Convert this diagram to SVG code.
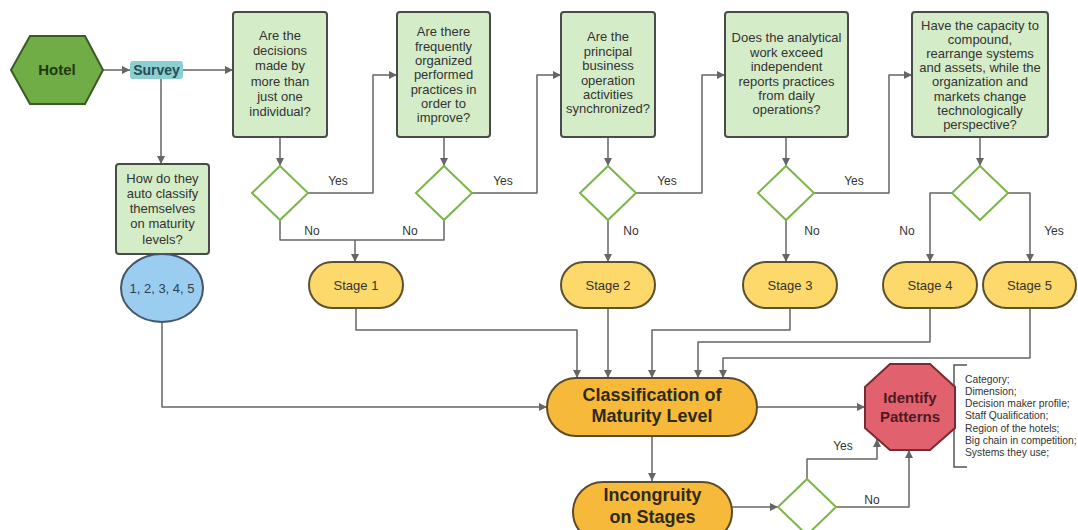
<svg xmlns="http://www.w3.org/2000/svg" width="1078" height="530" viewBox="0 0 1078 530">
<defs>
<marker id="arr" viewBox="0 0 10 10" refX="10" refY="5" markerWidth="9" markerHeight="8" markerUnits="userSpaceOnUse" orient="auto">
<path d="M0,0 L10,5 L0,10 z" fill="#666"/>
</marker>
<style>
text{font-family:"Liberation Sans",Arial,sans-serif;fill:#333;text-anchor:middle}
.q{fill:#d5ecc8;stroke:#4a4a4a;stroke-width:2}
.dia{fill:#fff;stroke:#7ab648;stroke-width:2}
.stage{fill:#fdd96b;stroke:#5b5030;stroke-width:2}
.big{fill:#f7b93a;stroke:#5a4a2a;stroke-width:2}
.c{fill:none;stroke:#666;stroke-width:1.5;stroke-linejoin:round}
.a{marker-end:url(#arr)}
.t13{font-size:13px}
.lbl{font-size:12px}
.bt{font-size:18px;font-weight:bold;fill:#2e2a1a}
.list{font-size:10.3px;text-anchor:start}
</style>
</defs>
<rect width="1078" height="530" fill="#fff"/>

<g id="connectors">
<path class="c a" d="M103,70 H130"/>
<path class="c a" d="M183,70 H233"/>
<path class="c a" d="M161,79 V164"/>
<path class="c a" d="M280,137 V166"/>
<path class="c a" d="M308,193 H373 V75 H397"/>
<path class="c" d="M280,220 V240 H355"/>
<path class="c" d="M444,220 V240 H355"/>
<path class="c a" d="M355,240 V262"/>
<path class="c a" d="M444,137 V166"/>
<path class="c a" d="M472,193 H537 V75 H561"/>
<path class="c a" d="M608,137 V166"/>
<path class="c a" d="M608,220 V262"/>
<path class="c a" d="M636,193 H702 V75 H725"/>
<path class="c a" d="M786,137 V166"/>
<path class="c a" d="M786,220 V262"/>
<path class="c a" d="M814,193 H889 V75 H912"/>
<path class="c a" d="M980,137 V166"/>
<path class="c a" d="M952,193 H930 V262"/>
<path class="c a" d="M1008,193 H1030 V262"/>
<path class="c a" d="M162,323 V407 H547"/>
<path class="c a" d="M356,308 V330 H577 V378"/>
<path class="c a" d="M608,308 V378"/>
<path class="c a" d="M790,308 V330 H652 V378"/>
<path class="c a" d="M930,308 V342 H698 V378"/>
<path class="c a" d="M1030,308 V358 H723 V378"/>
<path class="c a" d="M757,407 H865"/>
<path class="c a" d="M652,436 V481"/>
<path class="c a" d="M732,507 H778"/>
<path class="c a" d="M807,479 V459 H877 V439"/>
<path class="c a" d="M836,507 H909 V450"/>
<path d="M967,365 H954 V467 H967" fill="none" stroke="#555" stroke-width="1.5"/>
<text class="lbl" x="338" y="185">Yes</text>
<text class="lbl" x="312" y="235">No</text>
<text class="lbl" x="503" y="185">Yes</text>
<text class="lbl" x="410" y="235">No</text>
<text class="lbl" x="667" y="185">Yes</text>
<text class="lbl" x="631" y="235">No</text>
<text class="lbl" x="854" y="185">Yes</text>
<text class="lbl" x="812" y="235">No</text>
<text class="lbl" x="907" y="235">No</text>
<text class="lbl" x="1054" y="235">Yes</text>
<text class="lbl" x="843" y="450">Yes</text>
<text class="lbl" x="872" y="504">No</text>
</g>

<g id="hotel">
<polygon points="11,70 30,36 85,36 103,70 85,104 30,104" fill="#70ad47" stroke="#3a5a26" stroke-width="2"/>
<text x="57" y="75" style="font-size:15px;font-weight:bold;fill:#1f3a10">Hotel</text>
</g>

<g id="survey">
<rect x="130" y="61" width="53" height="18" rx="3" fill="#8ccfce"/>
<text x="156.5" y="75" style="font-size:14px;font-weight:bold;fill:#234c5c">Survey</text>
</g>

<g id="q0">
<rect class="q" x="116" y="164" width="93" height="90" rx="3"/>
<text class="t13" x="162.5" y="182.5">How do they</text>
<text class="t13" x="162.5" y="197.5">auto classify</text>
<text class="t13" x="162.5" y="212.5">themselves</text>
<text class="t13" x="162.5" y="227.5">on maturity</text>
<text class="t13" x="162.5" y="243.5">levels?</text>
</g>

<g id="levels">
<ellipse cx="162" cy="288" rx="41" ry="34" fill="#9bcdf0" stroke="#45556a" stroke-width="2"/>
<text class="t13" x="162" y="292.5" style="fill:#2b3f55">1, 2, 3, 4, 5</text>
</g>

<g id="q1">
<rect class="q" x="233" y="12" width="94" height="125" rx="3"/>
<text class="t13" x="280" y="39.5">Are the</text>
<text class="t13" x="280" y="54.5">decisions</text>
<text class="t13" x="280" y="70">made by</text>
<text class="t13" x="280" y="85.5">more than</text>
<text class="t13" x="280" y="100.5">just one</text>
<text class="t13" x="280" y="115.5">individual?</text>
</g>
<g id="d1"><polygon class="dia" points="280,166 308,193 280,220 252,193"/></g>

<g id="q2">
<rect class="q" x="397" y="12" width="93" height="125" rx="3"/>
<text class="t13" x="443.5" y="36">Are there</text>
<text class="t13" x="443.5" y="50.5">frequently</text>
<text class="t13" x="443.5" y="65">organized</text>
<text class="t13" x="443.5" y="79">performed</text>
<text class="t13" x="443.5" y="93.5">practices in</text>
<text class="t13" x="443.5" y="107.5">order to</text>
<text class="t13" x="443.5" y="122">improve?</text>
</g>
<g id="d2"><polygon class="dia" points="444,166 472,193 444,220 416,193"/></g>

<g id="q3">
<rect class="q" x="561" y="12" width="94" height="125" rx="3"/>
<text class="t13" x="608" y="41">Are the</text>
<text class="t13" x="608" y="55.5">principal</text>
<text class="t13" x="608" y="69.5">business</text>
<text class="t13" x="608" y="84.5">operation</text>
<text class="t13" x="608" y="98.5">activities</text>
<text class="t13" x="608" y="113">synchronized?</text>
</g>
<g id="d3"><polygon class="dia" points="608,166 636,193 608,220 580,193"/></g>

<g id="q4">
<rect class="q" x="725" y="12" width="123" height="125" rx="3"/>
<text class="t13" x="786.5" y="42">Does the analytical</text>
<text class="t13" x="786.5" y="56.5">work exceed</text>
<text class="t13" x="786.5" y="71">independent</text>
<text class="t13" x="786.5" y="85.5">reports practices</text>
<text class="t13" x="786.5" y="99.5">from daily</text>
<text class="t13" x="786.5" y="113.5">operations?</text>
</g>
<g id="d4"><polygon class="dia" points="786,166 814,193 786,220 758,193"/></g>

<g id="q5">
<rect class="q" x="912" y="12" width="136" height="125" rx="3"/>
<text class="t13" x="980" y="29.5">Have the capacity to</text>
<text class="t13" x="980" y="43.5">compound,</text>
<text class="t13" x="980" y="57.5">rearrange systems</text>
<text class="t13" x="980" y="72">and assets, while the</text>
<text class="t13" x="980" y="86">organization and</text>
<text class="t13" x="980" y="100.5">markets change</text>
<text class="t13" x="980" y="114.5">technologically</text>
<text class="t13" x="980" y="128.5">perspective?</text>
</g>
<g id="d5"><polygon class="dia" points="980,166 1008,193 980,220 952,193"/></g>

<g id="stage1"><rect class="stage" x="309" y="262" width="94" height="46" rx="23"/><text class="t13" x="356" y="289.5">Stage 1</text></g>
<g id="stage2"><rect class="stage" x="561" y="262" width="94" height="46" rx="23"/><text class="t13" x="608" y="289.5">Stage 2</text></g>
<g id="stage3"><rect class="stage" x="743" y="262" width="94" height="46" rx="23"/><text class="t13" x="790" y="289.5">Stage 3</text></g>
<g id="stage4"><rect class="stage" x="883" y="262" width="94" height="46" rx="23"/><text class="t13" x="930" y="289.5">Stage 4</text></g>
<g id="stage5"><rect class="stage" x="983" y="262" width="93" height="46" rx="23"/><text class="t13" x="1029.5" y="289.5">Stage 5</text></g>

<g id="classification">
<rect class="big" x="547" y="378" width="210" height="58" rx="29"/>
<text class="bt" x="652" y="401">Classification of</text>
<text class="bt" x="652" y="422">Maturity Level</text>
</g>

<g id="identify">
<polygon points="890,364 930,364 955,387 955,428 930,450 890,450 865,428 865,387" fill="#e2616f" stroke="#7a2a30" stroke-width="2"/>
<text x="910" y="403" style="font-size:15px;font-weight:bold;fill:#4d1a1f">Identify</text>
<text x="910" y="422" style="font-size:15px;font-weight:bold;fill:#4d1a1f">Patterns</text>
</g>

<g id="patterns-list">
<text class="list" x="965" y="383">Category;</text>
<text class="list" x="965" y="395">Dimension;</text>
<text class="list" x="965" y="407">Decision maker profile;</text>
<text class="list" x="965" y="419">Staff Qualification;</text>
<text class="list" x="965" y="432">Region of the hotels;</text>
<text class="list" x="965" y="444">Big chain in competition;</text>
<text class="list" x="965" y="456">Systems they use;</text>
</g>

<g id="incongruity">
<rect class="big" x="573" y="482" width="159" height="60" rx="30"/>
<text class="bt" x="652.5" y="501">Incongruity</text>
<text class="bt" x="652.5" y="523">on Stages</text>
</g>

<g id="d6"><polygon class="dia" points="807,479 836,507 807,535 778,507"/></g>
</svg>
